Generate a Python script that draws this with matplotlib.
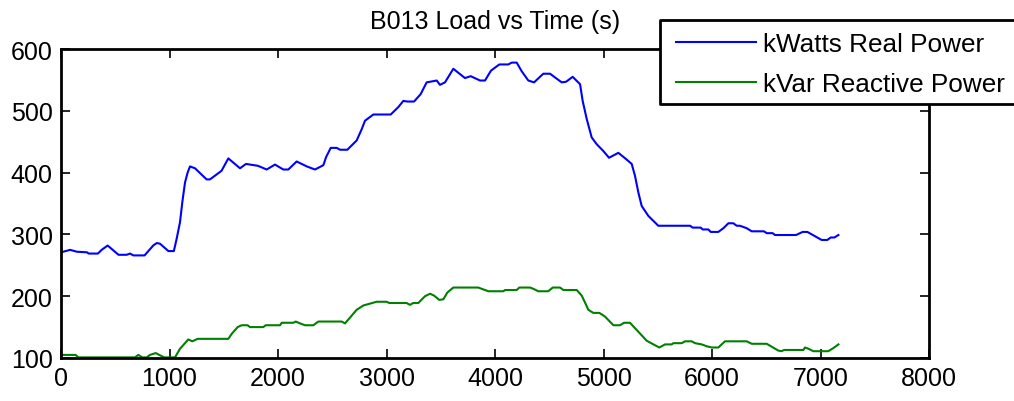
import matplotlib.pyplot as plt
from matplotlib.patches import Rectangle
from matplotlib.lines import Line2D

plt.rcParams['font.family'] = ['Liberation Sans', 'DejaVu Sans']

# time (s) and real power (kW)
t_kw = [0, 85, 145, 240, 255, 340, 375, 430, 530, 605, 636, 667, 770, 850, 882, 912, 990, 1040,
        1066, 1097, 1118, 1143, 1167, 1189, 1235, 1342, 1373, 1480, 1542, 1650, 1705, 1815, 1896,
        1972, 2049, 2095, 2172, 2265, 2341, 2418, 2443, 2486, 2541, 2572, 2639, 2725, 2771, 2802,
        2879, 3039, 3109, 3155, 3192, 3254, 3315, 3370, 3463, 3493, 3539, 3616, 3723, 3776, 3862,
        3908, 3963, 4040, 4123, 4154, 4200, 4246, 4307, 4360, 4445, 4507, 4615, 4655, 4716, 4784,
        4808, 4845, 4891, 4937, 4998, 5051, 5137, 5214, 5260, 5290, 5321, 5352, 5413, 5505, 5798,
        5822, 5896, 5914, 5966, 5988, 6058, 6105, 6151, 6197, 6228, 6258, 6320, 6366, 6479, 6504,
        6559, 6581, 6774, 6836, 6879, 6950, 7011, 7063, 7094, 7128, 7165]
kw = [271, 275, 272, 271, 269, 269, 275, 282, 267, 267, 269, 266, 266, 282, 286, 285, 273, 273,
      293, 320, 352, 384, 400, 410, 407, 389, 389, 403, 423, 407, 414, 411, 405,
      413, 405, 405, 418, 410, 405, 412, 425, 440, 440, 437, 437, 452, 470, 484,
      494, 494, 506, 516, 515, 515, 527, 546, 549, 542, 546, 568, 553, 556, 549,
      549, 565, 575, 575, 578, 578, 564, 549, 546, 560, 560, 546, 547, 555, 543,
      516, 487, 457, 446, 435, 424, 432, 421, 414, 395, 368, 346, 330, 314, 314,
      311, 311, 308, 308, 304, 304, 310, 318, 318, 314, 314, 310, 305, 305, 302,
      302, 299, 299, 304, 304, 297, 291, 291, 295, 295, 299]

# time (s) and reactive power (kVar)
t_kvar = [0, 135, 160, 682, 713, 749, 790, 820, 873, 928, 952, 1051, 1097, 1173, 1210, 1260, 1542,
          1573, 1628, 1665, 1720, 1742, 1864, 1887, 2019, 2034, 2141, 2163, 2203, 2249, 2326, 2372,
          2587, 2618, 2725, 2787, 2848, 2909, 3001, 3025, 3185, 3216, 3247, 3293, 3355, 3401, 3438,
          3487, 3524, 3561, 3616, 3846, 3908, 3939, 4077, 4092, 4200, 4224, 4323, 4353, 4399, 4491,
          4532, 4599, 4630, 4753, 4799, 4829, 4860, 4906, 4962, 5014, 5091, 5152, 5189, 5244, 5398,
          5460, 5515, 5567, 5629, 5644, 5721, 5751, 5813, 5844, 5905, 5951, 5997, 6058, 6120, 6320,
          6366, 6504, 6611, 6642, 6664, 6842, 6857, 6888, 6934, 7072, 7118, 7165]
kvar = [105, 105, 101, 101, 105, 101, 101, 105, 108, 103, 101, 101, 115, 130, 127, 131, 131,
        139, 150, 153, 153, 150, 150, 153, 153, 157, 157, 159, 156, 153, 153, 159,
        159, 156, 178, 185, 188, 191, 191, 189, 189, 186, 189, 189, 200, 204, 201,
        194, 195, 206, 214, 214, 210, 208, 208, 210, 210, 214, 214, 212, 208, 208,
        214, 214, 210, 210, 201, 190, 178, 173, 173, 167, 153, 153, 157, 157, 128,
        122, 117, 122, 122, 124, 124, 127, 127, 124, 122, 119, 117, 117, 127, 127,
        123, 123, 112, 111, 113, 113, 117, 115, 111, 111, 116, 122]

labels = ['kWatts Real Power', 'kVar Reactive Power']

W, H = 1014, 402
fig = plt.figure(figsize=(W / 100, H / 100), dpi=100)
ax = fig.add_axes([61 / W, 1 - 359 / H, 868 / W, 309 / H])
l1, = ax.plot(t_kw, kw, color=(0, 0, 1), linewidth=1.5)
l2, = ax.plot(t_kvar, kvar, color=(0, 0.5, 0), linewidth=1.5)

ax.set_xlim(0, 8000)
ax.set_ylim(100, 600)
ax.set_xticks(range(0, 8001, 1000))
ax.set_yticks(range(100, 601, 100))
ax.tick_params(direction='in', length=6.5, width=1.2, top=True, right=True,
               labelsize=18, pad=6)
for s in ax.spines.values():
    s.set_linewidth(2)
ax.set_title('B013 Load vs Time (s)', fontsize=18, pad=15)

# legend box (MATLAB style, runs off the right edge of the figure)
x0, x1, y0, y1 = 660 / W, 1.05, 1 - 105 / H, 1 - 21 / H
fig.patches.append(Rectangle((x0, y0), x1 - x0, y1 - y0, transform=fig.transFigure,
                             facecolor='white', edgecolor='none', zorder=5))
fig.lines.append(Line2D([x1, x0, x0, x1], [y1, y1, y0, y0], transform=fig.transFigure,
                        color='black', linewidth=2, zorder=6))
leg = fig.legend([l1, l2], labels, loc='upper left', bbox_to_anchor=(676 / W, 1 - 33 / H),
                 borderaxespad=0, borderpad=0, fontsize=18.8, frameon=False,
                 handlelength=3.05, handletextpad=0.27, labelspacing=0.6)
leg.set_zorder(10)

fig.savefig('out.png', dpi=100)
